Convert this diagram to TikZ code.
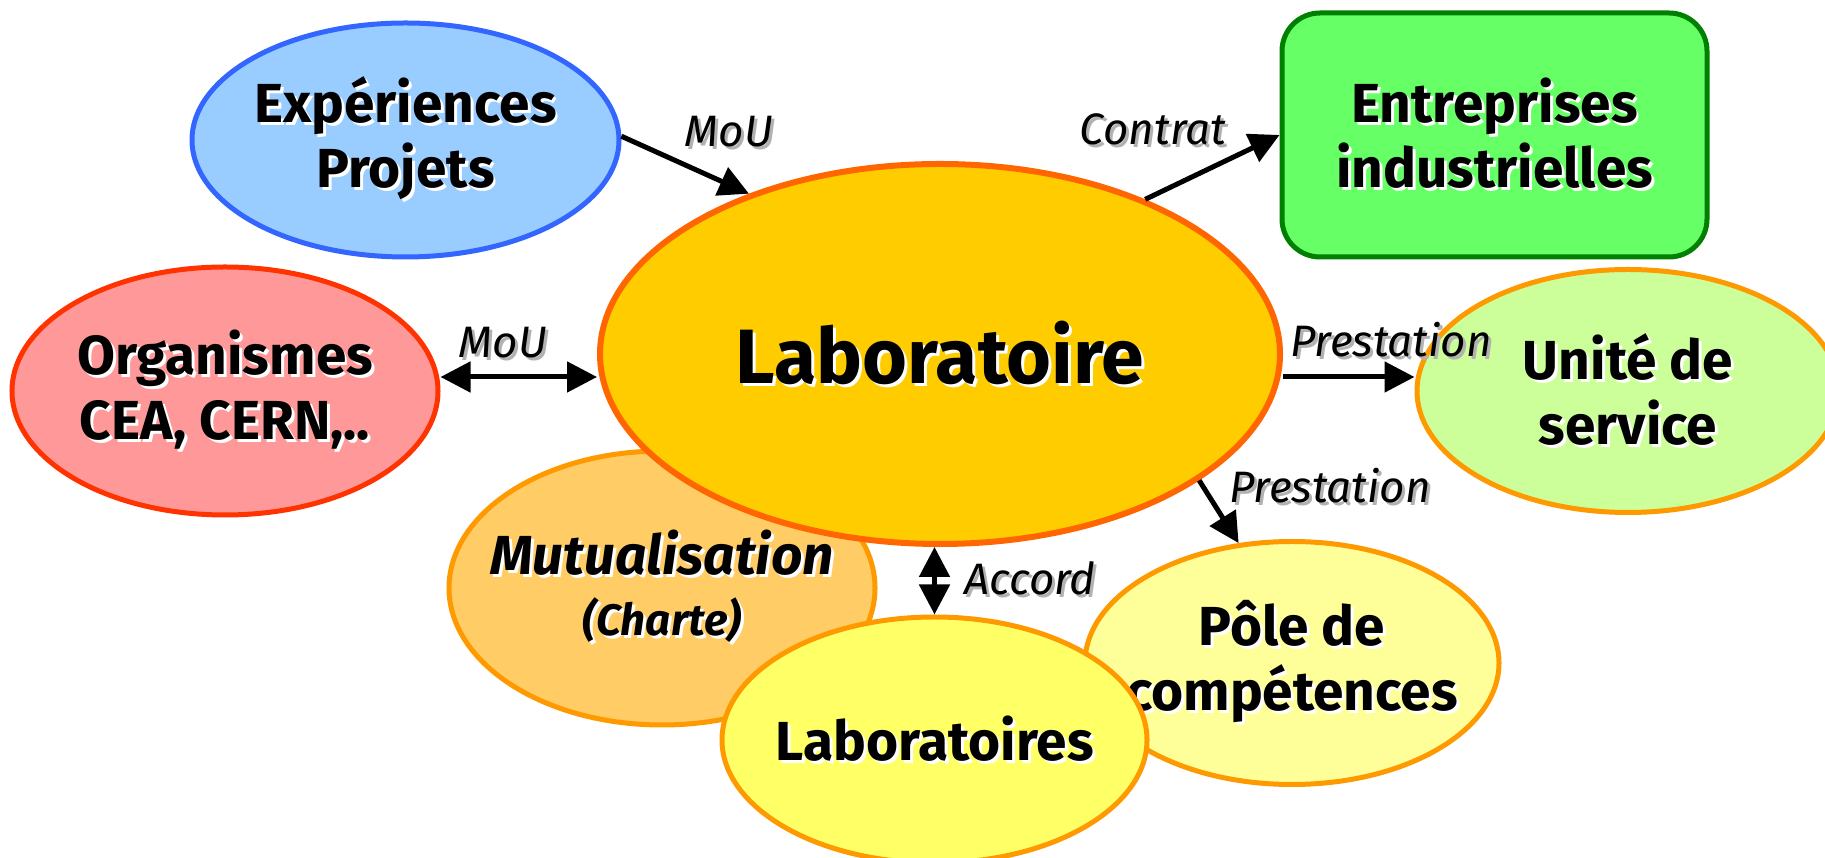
\documentclass[tikz,border=0pt]{standalone}
\usepackage{fontspec}
\setmainfont{Fira Sans}
\usetikzlibrary{shapes.geometric,arrows.meta}
\definecolor{expfill}{HTML}{99CCFF}\definecolor{expdraw}{HTML}{3366FF}
\definecolor{entfill}{HTML}{66FF66}\definecolor{entdraw}{HTML}{008000}
\definecolor{labfill}{HTML}{FFCC00}\definecolor{labdraw}{HTML}{FF6600}
\definecolor{orgfill}{HTML}{FF9999}\definecolor{orgdraw}{HTML}{FF3300}
\definecolor{unifill}{HTML}{CCFF99}\definecolor{orange2}{HTML}{FF9900}
\definecolor{mutfill}{HTML}{FFCC66}\definecolor{labsfill}{HTML}{FFFF66}
\definecolor{polefill}{HTML}{FFFF99}
\newcommand\shd[2][white]{\leavevmode\rlap{\kern3pt\raisebox{-3pt}{\textcolor{#1}{#2}}}#2}
\begin{document}
\begin{tikzpicture}[x=1pt,y=1pt,
  bub/.style={ellipse, draw, line width=5pt, inner xsep=-120pt, inner ysep=-60pt, align=center,
    font=\fontsize{55}{65}\selectfont\bfseries},
  lbl/.style={anchor=base, inner sep=0pt, font=\fontsize{44}{50}\selectfont\itshape},
  arr/.style={line width=5pt, -{Triangle[length=30pt,width=30pt]}},
  darr/.style={line width=5pt, {Triangle[length=30pt,width=30pt]}-{Triangle[length=30pt,width=30pt]}}]
\useasboundingbox (0,0) rectangle (1825,858);
% nodes (back to front)
\node[bub, fill=mutfill, draw=orange2, minimum width=426pt, minimum height=274pt,
  font=\fontsize{55}{65}\selectfont\bfseries\itshape] (mut) at (662,270)
  {\shd{Mutualisation}\\[-4pt]{\fontsize{44}{50}\selectfont\itshape\shd{(Charte)}}};
\node[bub, fill=labfill, draw=labdraw, line width=6pt, minimum width=680pt, minimum height=380pt,
  font=\fontsize{77}{80}\selectfont\bfseries] (lab) at (940,504) {\shd{Laboratoire}};
\node[bub, fill=polefill, draw=orange2, minimum width=414pt, minimum height=243pt] (pole) at (1292,195)
  {\shd{Pôle de}\\\shd{compétences}};
\node[bub, fill=labsfill, draw=orange2, minimum width=425pt, minimum height=246pt] (labs) at (934.5,118)
  {\shd{Laboratoires}};
\node[bub, fill=expfill, draw=expdraw, minimum width=427pt, minimum height=234pt] (exp) at (405.5,718)
  {\shd{Expériences}\\\shd{Projets}};
\node[bub, fill=orgfill, draw=orgdraw, minimum width=426pt, minimum height=248pt] (org) at (225,467)
  {\shd{Organismes}\\\shd{CEA, CERN,..}};
\node[bub, fill=unifill, draw=orange2, minimum width=422pt, minimum height=243pt] (uni) at (1628,467)
  {\shd{Unité de}\\\shd{service}};
\node[bub, shape=rectangle, rounded corners=38pt, inner sep=0pt, fill=entfill, draw=entdraw,
  minimum width=425pt, minimum height=244pt] (ent) at (1494.5,723) {\shd{Entreprises}\\\shd{industrielles}};
% connectors
\coordinate (hline) at (0,481);
\draw[arr] (exp.1.3) -- (lab.140);
\draw[arr] (lab.37) -- (ent.west);
\draw[darr] (org.east |- hline) -- (lab.west |- hline);
\draw[arr] (lab.east |- hline) -- (uni.west |- hline);
\draw[arr] (lab.-26.8) -- (pole.114.9);
\draw[darr] (lab.south -| labs.north) -- (labs.north);
% labels
\node[lbl] (l1) at (729,711) {\shd[black!30]{MoU}};
\node[lbl] (l2) at (1153,713) {\shd[black!30]{Contrat}};
\node[lbl] (l3) at (503,500) {\shd[black!30]{MoU}};
\node[lbl] (l4) at (1391,501) {\shd[black!30]{Prestation}};
\node[lbl] (l5) at (1330,355) {\shd[black!30]{Prestation}};
\node[lbl] (l6) at (1030,263) {\shd[black!30]{Accord}};
\end{tikzpicture}
\end{document}
